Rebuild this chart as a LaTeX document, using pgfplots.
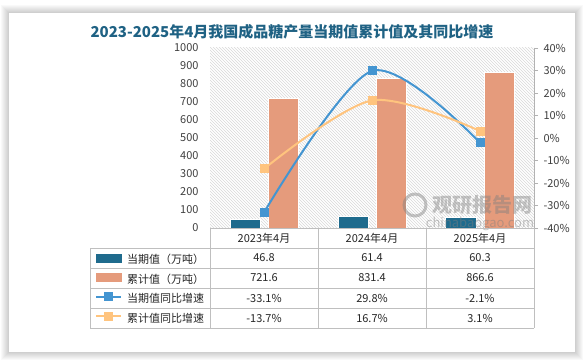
\documentclass[border=0pt]{standalone}
\usepackage{pgfplots}
\pgfplotsset{compat=1.18}
\usepackage{fontspec}
\setmainfont{Noto Sans CJK SC}
\usetikzlibrary{patterns}
\definecolor{darkbar}{HTML}{1F6B8D}
\definecolor{salmon}{HTML}{E59B7C}
\definecolor{blueline}{HTML}{4495D1}
\definecolor{orangeline}{HTML}{FFC47E}
\definecolor{titlecol}{HTML}{1F6284}
\definecolor{labcol}{HTML}{404040}
\definecolor{gridcol}{HTML}{BFBFBF}
\begin{document}
\begin{tikzpicture}[x=1pt,y=1pt]
\useasboundingbox (0,0) rectangle (584,362);
\fill[white] (0,0) rectangle (584,362);
\foreach \i in {1,...,8} {\fill[black,opacity=0.022] ({9-\i},{10-\i}) rectangle ({575+\i},{349+\i});}
\fill[white] (9,10) rectangle (575,349);
\node[font=\fontsize{15}{15}\selectfont\bfseries, color=titlecol] at (292,330) {2023-2025年4月我国成品糖产量当期值累计值及其同比增速};

\begin{axis}[
  at={(210pt,134pt)}, anchor=south west, scale only axis, width=324pt, height=180pt,
  xmin=0, xmax=3, ymin=0, ymax=1000, ytick={0,100,...,1000}, xtick=\empty,
  axis line style={draw=none}, major tick length=0pt,
  axis background/.style={pattern=north west lines, pattern color=black!15},
  yticklabel style={font=\fontsize{11}{11}\selectfont, color=labcol, xshift=-8pt},
  /pgf/number format/assume math mode=true,
  /pgf/number format/1000 sep={},
  clip=false,
]
\addplot[ybar, bar width=30pt, bar shift=-19pt, fill=darkbar, draw=white, line width=1pt] coordinates {(0.5,46.8) (1.5,61.4) (2.5,60.3)};
\addplot[ybar, bar width=30pt, bar shift=19pt, fill=salmon, draw=white, line width=1pt] coordinates {(0.5,721.6) (1.5,831.4) (2.5,866.6)};
\end{axis}

\begin{axis}[
  at={(210pt,134pt)}, anchor=south west, scale only axis, width=324pt, height=180pt,
  xmin=0, xmax=3, ymin=-40, ymax=40, hide x axis, axis y line*=right,
  ytick={-40,-30,...,40}, yticklabel={\pgfmathprintnumber{\tick}\%},
  y axis line style={color=gray!60}, ytick style={color=gray!60},
  tick align=outside, major tick length=4pt,
  yticklabel style={font=\fontsize{11}{11}\selectfont, color=labcol, xshift=2pt},
  /pgf/number format/assume math mode=true,
  legend cell align=left,
  legend style={at={(axis description cs:-0.3549,-0.1111)}, anchor=north west, draw=none, fill=none,
    inner sep=0pt, outer sep=0pt, row sep=0pt, font=\fontsize{11}{11}\selectfont, text=black!85,
    /tikz/every even column/.append style={text height=14pt, text depth=6pt, inner sep=0pt}},
  clip=false,
]
\addlegendimage{legend image code/.code={\fill[darkbar] (0pt,-4pt) rectangle (25pt,4pt); \path (28pt,0pt);}}
\addlegendentry{当期值（万吨）}
\addlegendimage{legend image code/.code={\fill[salmon] (0pt,-4pt) rectangle (25pt,4pt); \path (28pt,0pt);}}
\addlegendentry{累计值（万吨）}
\addplot[blueline, line width=2pt, smooth, mark=square*, mark size=3.5pt,
  legend image code/.code={\draw[mark repeat=2, mark phase=2] plot coordinates {(0pt,0pt) (12.5pt,0pt) (25pt,0pt)}; \path (28pt,0pt);}]
  coordinates {(0.5,-33.1) (1.5,29.8) (2.5,-2.1)};
\addlegendentry{当期值同比增速}
\addplot[orangeline, line width=2pt, smooth, mark=square*, mark size=3.5pt,
  legend image code/.code={\draw[mark repeat=2, mark phase=2] plot coordinates {(0pt,0pt) (12.5pt,0pt) (25pt,0pt)}; \path (28pt,0pt);}]
  coordinates {(0.5,-13.7) (1.5,16.7) (2.5,3.1)};
\addlegendentry{累计值同比增速}
\end{axis}

% watermark
\begin{scope}[opacity=0.45, gray]
\draw[line width=3pt] (415,157) circle (11);
\node[font=\fontsize{20}{20}\selectfont\bfseries] at (482,157) {观研报告网};
\node[font=\fontsize{13}{13}\selectfont] at (480,138) {chinabaogao.com};
\end{scope}

% table
\begin{scope}[gridcol, line width=0.7pt]
\draw (210,134) -- (534,134);
\foreach \y in {114,94,74,54,34} {\draw (90,\y) -- (534,\y);}
\draw (90,114) -- (90,34);
\foreach \x in {210,318,426,534} {\draw (\x,134) -- (\x,34);}
\end{scope}
\begin{scope}[font=\fontsize{11}{11}\selectfont, text=black!85]
\node at (264,124) {2023年4月};
\node at (372,124) {2024年4月};
\node at (480,124) {2025年4月};
\node at (264,104) {46.8}; \node at (372,104) {61.4}; \node at (480,104) {60.3};
\node at (264,84) {721.6}; \node at (372,84) {831.4}; \node at (480,84) {866.6};
\node at (264,64) {-33.1\%}; \node at (372,64) {29.8\%}; \node at (480,64) {-2.1\%};
\node at (264,44) {-13.7\%}; \node at (372,44) {16.7\%}; \node at (480,44) {3.1\%};
\end{scope}
\end{tikzpicture}
\end{document}
